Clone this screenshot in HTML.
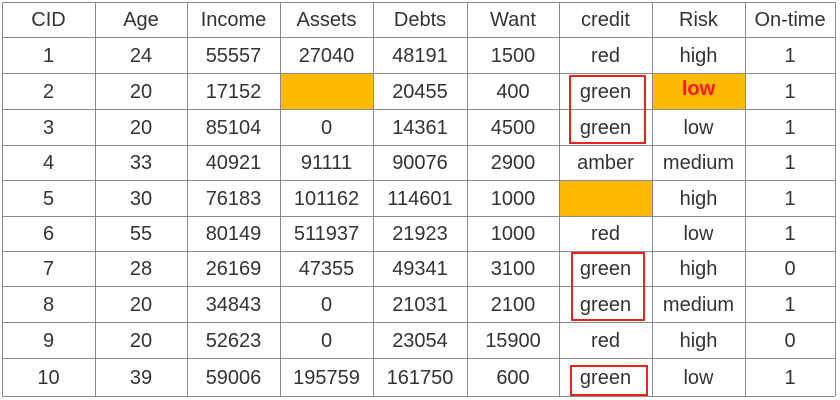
<!DOCTYPE html>
<html><head><meta charset="utf-8"><style>
html,body{margin:0;padding:0;background:#fff;width:840px;height:400px;overflow:hidden}
#t{position:absolute;left:0;top:0;width:840px;height:400px;font-family:"Liberation Sans","DejaVu Sans",sans-serif;color:#333;font-size:20px}
.c{position:absolute;display:flex;align-items:center;justify-content:center;box-sizing:border-box;padding-top:2px}
.vl{position:absolute;width:1px;background:#8a8a8a}
.hl{position:absolute;height:1px;background:#8a8a8a}
.box{position:absolute;border:2px solid #e8231e;box-sizing:border-box}
</style></head><body>
<div id="t"></div>
<script>
const cols=["CID","Age","Income","Assets","Debts","Want","credit","Risk","On-time"];
const rows=[
["1","24","55557","27040","48191","1500","red","high","1"],
["2","20","17152","","20455","400","green","low","1"],
["3","20","85104","0","14361","4500","green","low","1"],
["4","33","40921","91111","90076","2900","amber","medium","1"],
["5","30","76183","101162","114601","1000","","high","1"],
["6","55","80149","511937","21923","1000","red","low","1"],
["7","28","26169","47355","49341","3100","green","high","0"],
["8","20","34843","0","21031","2100","green","medium","1"],
["9","20","52623","0","23054","15900","red","high","0"],
["10","39","59006","195759","161750","600","green","low","1"]];
const xs=[2,95,187,280,373,467,559,652,745,835];
const ys=[2,37,73,109,145,180,216,251,286,322,358,396];
const t=document.getElementById('t');
function cell(x0,x1,y0,y1,txt,name){
  const d=document.createElement('div');d.className='c';
  d.style.left=x0+'px';d.style.top=y0+'px';d.style.width=(x1-x0)+'px';d.style.height=(y1-y0)+'px';
  d.textContent=txt;
  
  
  t.appendChild(d);return d;
}
cols.forEach((c,i)=>{cell(xs[i],xs[i+1],ys[0],ys[1],c,'header-'+c.toLowerCase());});
rows.forEach((r,ri)=>{r.forEach((v,ci)=>{
  const d=cell(xs[ci],xs[ci+1],ys[ri+1],ys[ri+2],v,'cell-r'+(ri+1)+'-'+cols[ci].toLowerCase());
  if(v===''){d.style.background='#ffb900';}
  if(ri===1&&ci===7){d.style.background='#ffb900';d.style.color='#ff1a1a';d.style.fontWeight='bold';d.style.alignItems='flex-start';d.style.paddingTop='5px';}
});});
xs.forEach((x,i)=>{const l=document.createElement('div');l.className='vl';l.style.left=x+'px';l.style.top=ys[0]+'px';l.style.height=(ys[ys.length-1]-ys[0])+'px';


t.appendChild(l);});
ys.forEach((y,i)=>{const l=document.createElement('div');l.className='hl';l.style.top=y+'px';l.style.left=xs[0]+'px';l.style.width=(xs[xs.length-1]-xs[0])+'px';


t.appendChild(l);});
[[569,75,77,69],[571,252,74,69],[570,365,78,31]].forEach(b=>{
const d=document.createElement('div');d.className='box';d.style.left=b[0]+'px';d.style.top=b[1]+'px';d.style.width=b[2]+'px';d.style.height=b[3]+'px';


t.appendChild(d);});
</script>
</body></html>
